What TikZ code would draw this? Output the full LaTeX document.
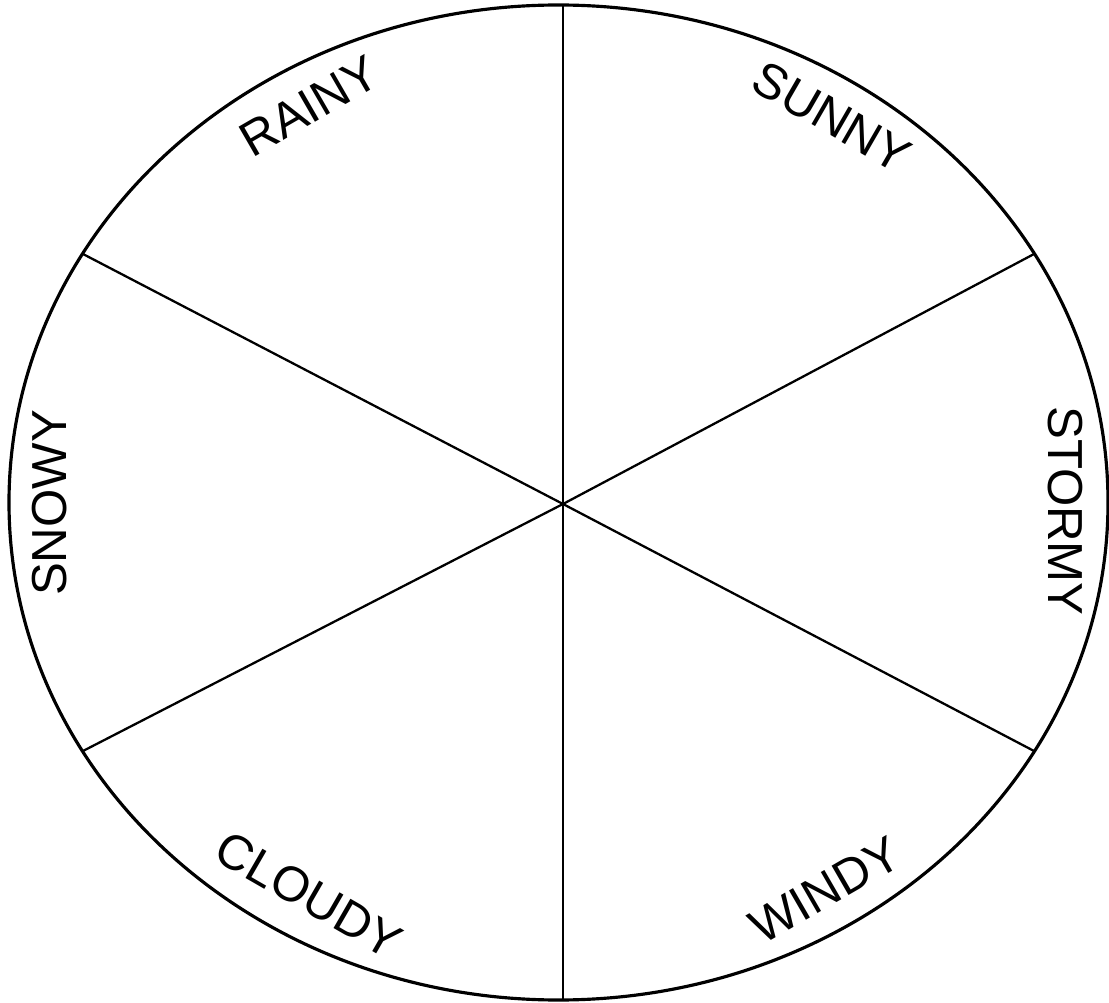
\documentclass[tikz,border=0pt]{standalone}
\usepackage{fontspec}
\setmainfont{Liberation Sans}
\begin{document}
\begin{tikzpicture}[x=0.02cm,y=-0.02cm,
  rim/.style={line width=1.8pt},
  spoke/.style={line width=1.3pt},
  lbl/.style={inner sep=0pt,font=\fontsize{28}{32}\selectfont}]
\useasboundingbox (0,0) rectangle (1109,1003);
% ellipse
\coordinate (ec) at (558.5,502.5);
\draw[rim] (ec) ellipse [x radius=549.5, y radius=497.5];
% hub and rim points
\coordinate (c) at (563,504);
\coordinate (top) at (563,5);
\coordinate (bot) at (563,1000);
\coordinate (ul) at (82.6,253.8);
\coordinate (ur) at (1034.4,253.8);
\coordinate (ll) at (82.6,751.2);
\coordinate (lr) at (1034.4,751.2);
\draw[spoke] (top) -- (bot);
\draw[spoke] (c) -- (ul);
\draw[spoke] (c) -- (ur);
\draw[spoke] (c) -- (ll);
\draw[spoke] (c) -- (lr);
% labels
\node[lbl,rotate=30]  (rainy)  at (309,106) {RAINY};
\node[lbl,rotate=-30] (sunny)  at (832,117) {SUNNY};
\node[lbl,rotate=-90] (stormy) at (1065,511) {STORMY};
\node[lbl,rotate=90]  (snowy)  at (50,503) {SNOWY};
\node[lbl,rotate=-30] (cloudy) at (309,895) {CLOUDY};
\node[lbl,rotate=30]  (windy)  at (825,890) {WINDY};
\end{tikzpicture}
\end{document}
